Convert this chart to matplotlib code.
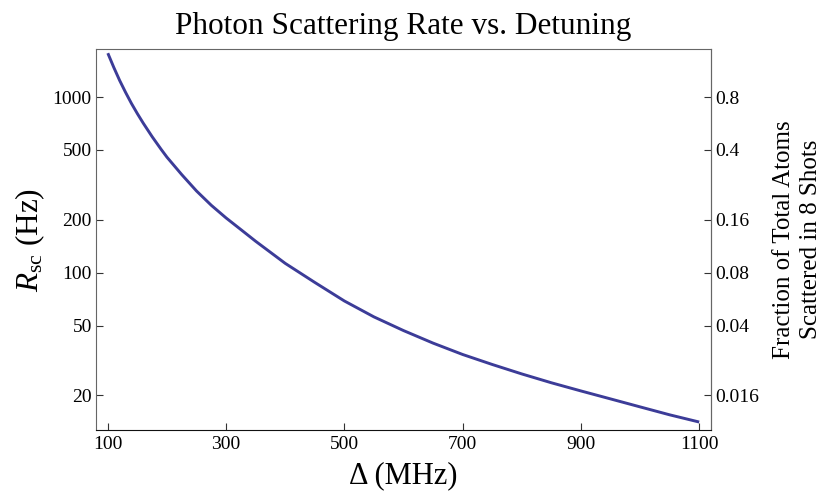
import matplotlib
matplotlib.use("Agg")
import matplotlib.pyplot as plt
from matplotlib.ticker import FixedLocator, FixedFormatter, NullLocator

# detuning (MHz) and scattering rate (Hz)
detuning = [100, 110, 120, 130, 140, 150, 160, 175, 190, 200, 225, 250,
            275, 300, 325, 350, 400, 450, 500, 550, 600, 650, 700, 750,
            800, 850, 900, 950, 1000, 1050, 1100]
rate = [1780, 1480, 1245, 1065, 920, 805, 710, 595, 505, 455, 362, 292,
        242, 205, 176, 151, 113, 88, 69, 56, 46.8, 39.7, 34.2, 30.0,
        26.5, 23.6, 21.2, 19.1, 17.2, 15.5, 14.1]

x_ticks = [100, 300, 500, 700, 900, 1100]
y_ticks = [20, 50, 100, 200, 500, 1000]
frac_ticks = [0.016, 0.04, 0.08, 0.16, 0.4, 0.8]
frac_labels = ["0.016", "0.04", "0.08", "0.16", "0.4", "0.8"]
frac_per_hz = 0.0008

plt.rcParams["font.family"] = ["Liberation Serif", "DejaVu Serif"]
plt.rcParams["mathtext.fontset"] = "custom"
plt.rcParams["mathtext.rm"] = "Liberation Serif"
plt.rcParams["mathtext.it"] = "Liberation Serif:italic"

fig = plt.figure(figsize=(8.26, 4.97), dpi=100)
ax = fig.add_axes([0.1162, 0.1348, 0.7446, 0.7666])

ax.plot(detuning, rate, color="#3c3c98", lw=2.1, solid_capstyle="butt")
ax.set_yscale("log")
ax.set_xlim(80, 1120)
ax.set_ylim(12.7, 1880)

ax.xaxis.set_major_locator(FixedLocator(x_ticks))
ax.yaxis.set_major_locator(FixedLocator(y_ticks))
ax.yaxis.set_major_formatter(FixedFormatter([str(v) for v in y_ticks]))
ax.yaxis.set_minor_locator(NullLocator())
ax.tick_params(direction="in", length=5, width=0.8, labelsize=14, color="#333333")
ax.tick_params(axis="x", pad=4)
ax.tick_params(axis="y", pad=3)

for side in ["left", "right", "top"]:
    ax.spines[side].set_color("#666666")
ax.spines["bottom"].set_color("#111111")

sec = ax.secondary_yaxis("right", functions=(lambda r: r * frac_per_hz,
                                             lambda f: f / frac_per_hz))
sec.yaxis.set_major_locator(FixedLocator(frac_ticks))
sec.yaxis.set_major_formatter(FixedFormatter(frac_labels))
sec.yaxis.set_minor_locator(NullLocator())
sec.tick_params(direction="in", length=5, width=0.8, labelsize=14, pad=3,
                color="#333333")
sec.spines["right"].set_color("#666666")
sec.set_ylabel("Fraction of Total Atoms\nScattered in 8 Shots", fontsize=18,
               linespacing=1.3, labelpad=10)

ax.set_title("Photon Scattering Rate vs. Detuning", fontsize=22.5, pad=11)
ax.set_xlabel("Δ (MHz)", fontsize=22, labelpad=6)
ax.set_ylabel(r"$R_{\mathrm{sc}}$ (Hz)", fontsize=22.5, labelpad=4)

fig.savefig("out.png", dpi=100)
